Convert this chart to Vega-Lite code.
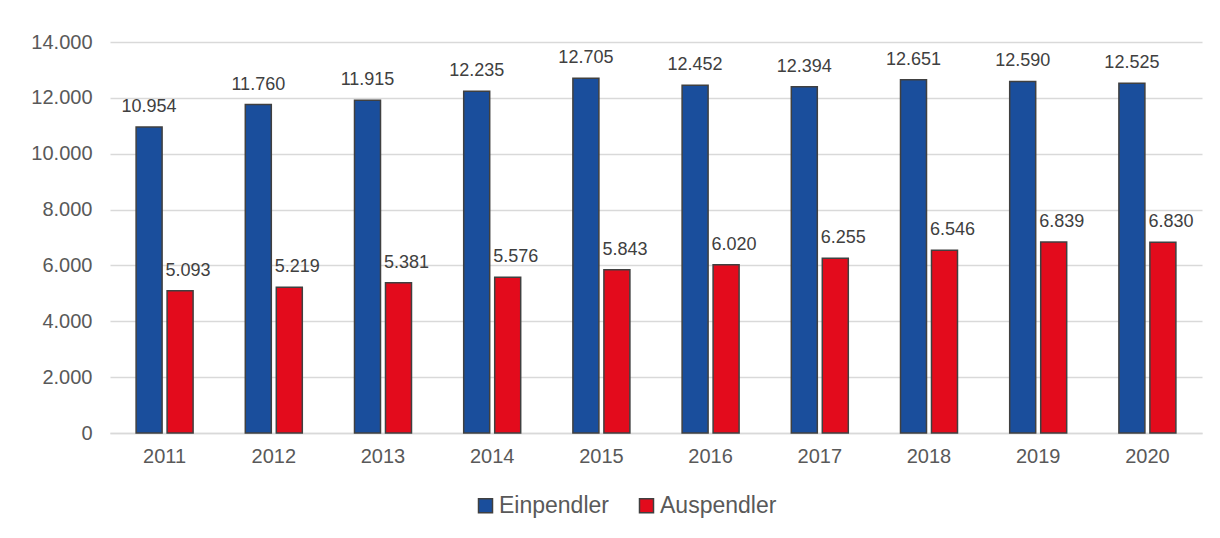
{
  "$schema": "https://vega.github.io/schema/vega-lite/v6.json",
  "width": 1092,
  "height": 391,
  "autosize": {"type": "none"},
  "padding": {"left": 110, "top": 42, "right": 18, "bottom": 105},
  "background": "white",
  "config": {
    "locale": {"number": {"decimal": ",", "thousands": ".", "grouping": [3], "currency": ["", " €"]}},
    "font": "Liberation Sans",
    "view": {"stroke": null}
  },
  "data": {
    "values": [
      {"year": "2011", "series": "Einpendler", "value": 10954},
      {"year": "2011", "series": "Auspendler", "value": 5093},
      {"year": "2012", "series": "Einpendler", "value": 11760},
      {"year": "2012", "series": "Auspendler", "value": 5219},
      {"year": "2013", "series": "Einpendler", "value": 11915},
      {"year": "2013", "series": "Auspendler", "value": 5381},
      {"year": "2014", "series": "Einpendler", "value": 12235},
      {"year": "2014", "series": "Auspendler", "value": 5576},
      {"year": "2015", "series": "Einpendler", "value": 12705},
      {"year": "2015", "series": "Auspendler", "value": 5843},
      {"year": "2016", "series": "Einpendler", "value": 12452},
      {"year": "2016", "series": "Auspendler", "value": 6020},
      {"year": "2017", "series": "Einpendler", "value": 12394},
      {"year": "2017", "series": "Auspendler", "value": 6255},
      {"year": "2018", "series": "Einpendler", "value": 12651},
      {"year": "2018", "series": "Auspendler", "value": 6546},
      {"year": "2019", "series": "Einpendler", "value": 12590},
      {"year": "2019", "series": "Auspendler", "value": 6839},
      {"year": "2020", "series": "Einpendler", "value": 12525},
      {"year": "2020", "series": "Auspendler", "value": 6830}
    ]
  },
  "encoding": {
    "x": {
      "field": "year", "type": "nominal", "title": null,
      "scale": {"paddingInner": 0.478, "paddingOuter": 0.239},
      "axis": {
        "labelAngle": 0, "labelFontSize": 20, "labelColor": "#595959", "labelPadding": 13,
        "domainColor": "#D9D9D9", "domainWidth": 1.5, "ticks": false, "grid": false
      }
    },
    "xOffset": {
      "field": "series", "type": "nominal", "sort": ["Einpendler", "Auspendler"],
      "scale": {"paddingInner": 0.161, "paddingOuter": 0}
    },
    "y": {
      "field": "value", "type": "quantitative", "title": null,
      "scale": {"domain": [0, 14000], "nice": false},
      "axis": {
        "values": [0, 2000, 4000, 6000, 8000, 10000, 12000, 14000],
        "format": ",d", "labelFontSize": 20, "labelColor": "#595959", "labelPadding": 18,
        "domain": false, "ticks": false, "gridColor": "#D9D9D9", "gridWidth": 1.5
      }
    }
  },
  "layer": [
    {
      "mark": {"type": "bar", "stroke": "#404040", "strokeWidth": 1.5},
      "encoding": {
        "color": {
          "field": "series", "type": "nominal", "sort": ["Einpendler", "Auspendler"],
          "scale": {"domain": ["Einpendler", "Auspendler"], "range": ["#1A4E9C", "#E30B1C"]},
          "legend": {
            "title": null, "orient": "none", "direction": "horizontal",
            "legendX": 364, "legendY": 452,
            "symbolType": "square", "symbolSize": 196, "symbolStrokeColor": "#404040", "symbolStrokeWidth": 1.5,
            "symbolOpacity": 1,
            "labelFontSize": 23, "labelColor": "#595959", "labelOffset": 2, "columnPadding": 26
          }
        }
      }
    },
    {
      "transform": [{"filter": "datum.series === 'Einpendler'"}],
      "mark": {"type": "text", "baseline": "alphabetic", "dy": -15, "fontSize": 18, "color": "#404040"},
      "encoding": {"text": {"field": "value", "type": "quantitative", "format": ",d"}}
    },
    {
      "transform": [{"filter": "datum.series === 'Auspendler'"}],
      "mark": {"type": "text", "baseline": "alphabetic", "dy": -15, "dx": 8, "fontSize": 18, "color": "#404040"},
      "encoding": {"text": {"field": "value", "type": "quantitative", "format": ",d"}}
    }
  ]
}
